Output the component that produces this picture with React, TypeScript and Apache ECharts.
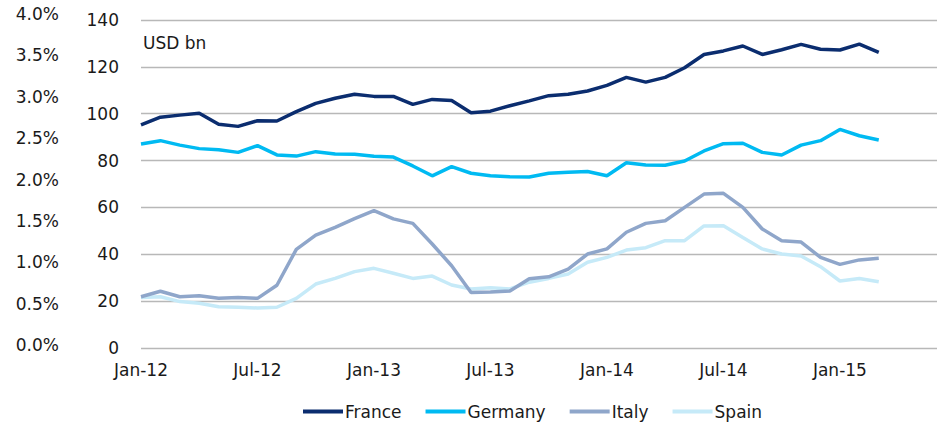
import React, { useEffect, useRef } from "react";
import * as echarts from "echarts";

const months: string[] = [
  "Jan-12","Feb-12","Mar-12","Apr-12","May-12","Jun-12","Jul-12","Aug-12","Sep-12","Oct-12","Nov-12","Dec-12",
  "Jan-13","Feb-13","Mar-13","Apr-13","May-13","Jun-13","Jul-13","Aug-13","Sep-13","Oct-13","Nov-13","Dec-13",
  "Jan-14","Feb-14","Mar-14","Apr-14","May-14","Jun-14","Jul-14","Aug-14","Sep-14","Oct-14","Nov-14","Dec-14",
  "Jan-15","Feb-15","Mar-15","Apr-15","May-15","Jun-15",
];

const france: number[] = [
  95.2, 98.5, 99.4, 100.2, 95.5, 94.6, 97.0, 96.9, 100.9, 104.4, 106.6, 108.3,
  107.4, 107.4, 104.0, 106.1, 105.6, 100.4, 101.1, 103.4, 105.5, 107.7, 108.3, 109.7,
  112.1, 115.5, 113.5, 115.5, 119.6, 125.3, 126.8, 128.9, 125.3, 127.3, 129.6, 127.5,
  127.2, 129.7, 126.2,
];

const germany: number[] = [
  87.1, 88.5, 86.6, 85.1, 84.6, 83.5, 86.4, 82.4, 81.9, 83.8, 82.8, 82.7,
  81.8, 81.5, 77.7, 73.5, 77.4, 74.6, 73.5, 73.1, 73.0, 74.6, 75.0, 75.3,
  73.5, 79.1, 78.1, 78.0, 79.8, 84.1, 87.2, 87.4, 83.5, 82.4, 86.6, 88.5,
  93.3, 90.6, 88.8,
];

const italy: number[] = [
  21.9, 24.2, 21.9, 22.3, 21.2, 21.6, 21.2, 26.8, 42.1, 48.2, 51.5, 55.2,
  58.6, 55.1, 53.2, 44.4, 35.1, 23.7, 23.9, 24.3, 29.6, 30.4, 33.7, 40.1,
  42.3, 49.4, 53.2, 54.3, 60.0, 65.7, 66.0, 60.0, 50.8, 45.8, 45.2, 38.7,
  35.7, 37.6, 38.3,
];

const spain: number[] = [
  21.6, 21.9, 19.8, 19.1, 17.6, 17.4, 17.1, 17.4, 21.2, 27.3, 29.7, 32.6,
  34.0, 31.9, 29.7, 30.7, 26.9, 25.2, 25.7, 25.2, 28.1, 29.7, 31.6, 36.6,
  38.7, 41.8, 42.8, 45.8, 45.8, 52.1, 52.2, 47.2, 42.3, 40.1, 39.3, 34.7,
  28.6, 29.7, 28.3,
];

const seriesNames = ["France", "Germany", "Italy", "Spain"];
const seriesColors = ["#0B2D6F", "#00BAF2", "#8FA6CA", "#C6EAF8"];

const FONT = "DejaVu Sans";
const TEXT = "#1a1a1a";
const GRID = "#B8B8B8";

export default function App() {
  const ref = useRef<HTMLDivElement>(null);
  useEffect(() => {
    if (!ref.current) return;
    const chart = echarts.init(ref.current, undefined, { renderer: "svg" });
    const data = [france, germany, italy, spain];
    chart.setOption({
      animation: false,
      backgroundColor: "#ffffff",
      textStyle: { fontFamily: FONT },
      grid: [
        { left: 141, right: 7, top: 20, height: 328, containLabel: false },
        { left: 70, width: 1, top: 14, height: 331, containLabel: false },
      ],
      xAxis: [
        {
          type: "category",
          gridIndex: 0,
          data: months,
          boundaryGap: false,
          axisLine: { show: false },
          axisTick: { show: false },
          axisLabel: {
            interval: 5,
            margin: 13,
            color: TEXT,
            fontSize: 17,
            fontFamily: FONT,
          },
        },
        { type: "value", gridIndex: 1, show: false },
      ],
      yAxis: [
        {
          type: "value",
          gridIndex: 0,
          min: 0,
          max: 140,
          interval: 20,
          axisLine: { show: false },
          axisTick: { show: false },
          splitLine: { lineStyle: { color: GRID, width: 1.3 } },
          axisLabel: { margin: 22, color: TEXT, fontSize: 17, fontFamily: FONT },
        },
        {
          type: "value",
          gridIndex: 1,
          min: 0,
          max: 0.04,
          interval: 0.005,
          axisLine: { show: false },
          axisTick: { show: false },
          splitLine: { show: false },
          axisLabel: {
            margin: 11,
            color: TEXT,
            fontSize: 17,
            fontFamily: FONT,
            formatter: (v: number) => (v * 100).toFixed(1) + "%",
          },
        },
      ],
      legend: {
        left: 298,
        top: 398,
        itemWidth: 40,
        itemHeight: 4,
        itemGap: 24,
        icon: "rect",
        textStyle: { color: TEXT, fontSize: 17, fontFamily: FONT, padding: [0, 0, 0, -3] },
        data: seriesNames,
      },
      graphic: [
        {
          type: "text",
          left: 143,
          top: 34,
          style: { text: "USD bn", fill: TEXT, font: `17px "${FONT}"` },
        },
      ],
      series: seriesNames.map((name, i) => ({
        name,
        type: "line",
        xAxisIndex: 0,
        yAxisIndex: 0,
        data: data[i],
        showSymbol: false,
        symbol: "none",
        lineStyle: { color: seriesColors[i], width: 3.5 },
        itemStyle: { color: seriesColors[i] },
        z: 10 - i,
      })),
    });
    return () => chart.dispose();
  }, []);
  return (
    <div
      ref={ref}
      style={{ position: "fixed", left: 0, top: 0, width: 944, height: 424 }}
    />
  );
}
